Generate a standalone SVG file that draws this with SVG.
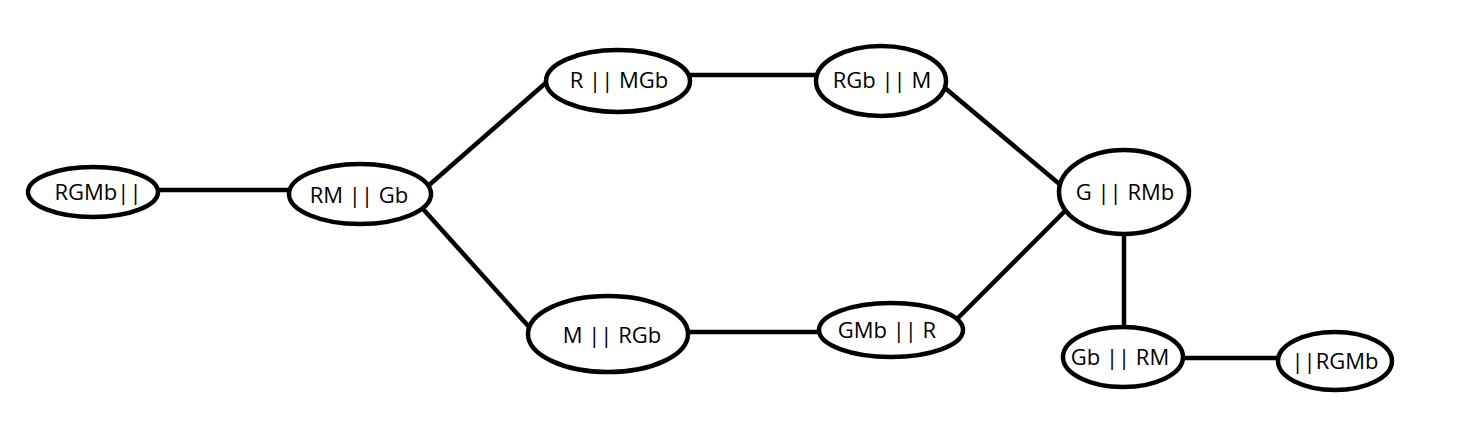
<svg xmlns="http://www.w3.org/2000/svg" width="1473" height="437" viewBox="0 0 1473 437">
<style>
.n ellipse{fill:#fff;stroke:#000;stroke-width:4.5}
.n text{font-family:"Open Sans","Liberation Sans",sans-serif;font-size:22px;fill:#000;text-anchor:middle}
.e line{stroke:#000;stroke-width:4.5}
</style>
<rect width="1473" height="437" fill="#fff"/>
<g class="e" id="connectors">
<line x1="159" y1="190" x2="290" y2="190"/>
<line x1="428" y1="186" x2="549" y2="80"/>
<line x1="423" y1="209" x2="530" y2="328"/>
<line x1="690" y1="75" x2="817" y2="75"/>
<line x1="945" y1="88" x2="1063" y2="187"/>
<line x1="688" y1="332" x2="819" y2="332"/>
<line x1="957" y1="319" x2="1065" y2="211"/>
<line x1="1124" y1="233" x2="1124" y2="328"/>
<line x1="1182" y1="358" x2="1279" y2="358"/>
</g>
<g class="n" id="n1"><ellipse cx="93" cy="192" rx="65" ry="25"/><text x="98" y="200">RGMb||</text></g>
<g class="n" id="n2"><ellipse cx="360" cy="194" rx="71" ry="30"/><text x="359" y="203">RM || Gb</text></g>
<g class="n" id="n3"><ellipse cx="618" cy="81" rx="72" ry="31"/><text x="619" y="88">R || MGb</text></g>
<g class="n" id="n4"><ellipse cx="881" cy="81" rx="65" ry="35"/><text x="882" y="88">RGb || M</text></g>
<g class="n" id="n5"><ellipse cx="608" cy="334" rx="80" ry="38"/><text x="612" y="343">M || RGb</text></g>
<g class="n" id="n6"><ellipse cx="891" cy="330" rx="72" ry="27"/><text x="887" y="338">GMb || R</text></g>
<g class="n" id="n7"><ellipse cx="1124" cy="192" rx="65" ry="42"/><text x="1125" y="200">G || RMb</text></g>
<g class="n" id="n8"><ellipse cx="1123" cy="357" rx="60" ry="30"/><text x="1120" y="365">Gb || RM</text></g>
<g class="n" id="n9"><ellipse cx="1335" cy="361" rx="57" ry="29"/><text x="1335" y="369">||RGMb</text></g>
</svg>
